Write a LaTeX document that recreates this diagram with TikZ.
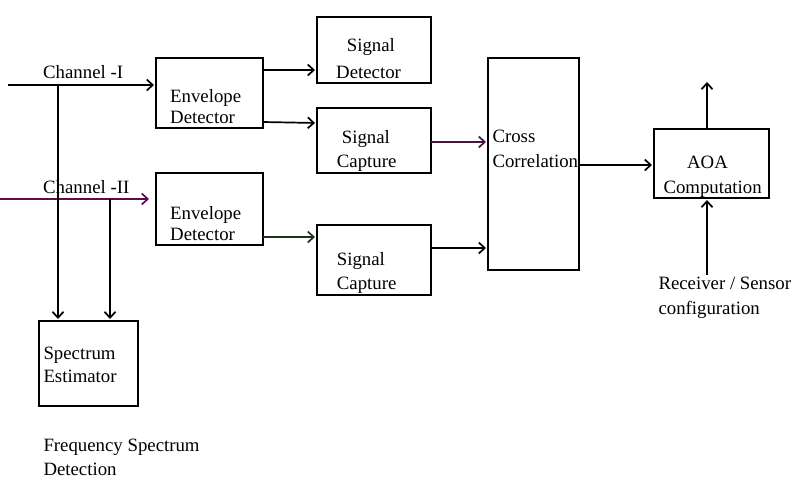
\documentclass[tikz,border=0pt]{standalone}
\usepackage{fontspec}
\setmainfont{Liberation Serif}
\usetikzlibrary{arrows.meta}
\definecolor{chpurple}{RGB}{95,10,80}
\definecolor{dpurple}{RGB}{70,20,60}
\definecolor{dgreen}{RGB}{30,50,30}
\begin{document}
\begin{tikzpicture}[x=1pt,y=-1pt,
  box/.style={draw, line width=2pt, inner sep=0pt, outer sep=0pt},
  arr/.style={line width=1.7pt, -{Straight Barb[length=6pt,width=11pt,line width=1.7pt]}, shorten >=2pt},
  txt/.style={anchor=base west, inner sep=0pt, font=\fontsize{18.8}{22}\selectfont}]
\useasboundingbox (0,0) rectangle (803,488);
% boxes
\node[box, minimum width=107pt, minimum height=70pt] (ed1) at (209.5,93) {};
\node[box, minimum width=107pt, minimum height=72pt] (ed2) at (209.5,209) {};
\node[box, minimum width=114pt, minimum height=66pt] (sd) at (374,50) {};
\node[box, minimum width=114pt, minimum height=65pt] (sc1) at (374,140.5) {};
\node[box, minimum width=114pt, minimum height=70pt] (sc2) at (374,260) {};
\node[box, minimum width=91pt, minimum height=212pt] (cc) at (533.5,164) {};
\node[box, minimum width=115pt, minimum height=69pt] (aoa) at (711.5,163.5) {};
\node[box, minimum width=99pt, minimum height=85pt] (se) at (88.5,363.5) {};
% texts
\node[txt] (tch1) at (43,78) {Channel -I};
\node[txt] (tch2) at (43,193) {Channel -II};
\node[txt] (ted1a) at (170,102.5) {Envelope};
\node[txt] (ted1b) at (170,123.5) {Detector};
\node[txt] (ted2a) at (170,219) {Envelope};
\node[txt] (ted2b) at (170,240) {Detector};
\node[txt] (tsda) at (346.7,51.5) {Signal};
\node[txt] (tsdb) at (336,78.5) {Detector};
\node[txt] (tsc1a) at (341.7,143) {Signal};
\node[txt] (tsc1b) at (336.7,167.5) {Capture};
\node[txt] (tsc2a) at (336.7,265.5) {Signal};
\node[txt] (tsc2b) at (336.7,289) {Capture};
\node[txt] (tcca) at (492.3,142.5) {Cross};
\node[txt] (tccb) at (492.3,167.5) {Correlation};
\node[txt, anchor=base] (taoaa) at (707.5,168) {AOA};
\node[txt] (taoab) at (663.3,193.5) {Computation};
\node[txt] (trxa) at (658.3,289) {Receiver / Sensor};
\node[txt] (trxb) at (658.3,314) {configuration};
\node[txt] (tsea) at (43.3,359) {Spectrum};
\node[txt] (tseb) at (43.3,382.5) {Estimator};
\node[txt] (tfsa) at (43.3,451.5) {Frequency Spectrum};
\node[txt] (tfsb) at (43.3,475.5) {Detection};
% free coordinates
\coordinate (in1) at (8,85);
\coordinate (in2) at (0,199);
\coordinate (j1) at (58,85);
\coordinate (j2) at (110,199);
\coordinate (out) at (707,80);
\coordinate (rx) at (707,275);
% connectors
\draw[arr] (in1) -- ([yshift=8pt]ed1.west);
\draw[arr, chpurple, shorten >=7pt] (in2) -- ([yshift=10pt]ed2.west);
\draw[arr] (j1) -- ([xshift=-30.5pt]se.north);
\draw[arr] (j2) -- ([xshift=21.5pt]se.north);
\draw[arr] ([yshift=23pt]ed1.east) -- ([yshift=-20pt]sd.west);
\draw[arr] ([yshift=-29pt]ed1.east) -- ([yshift=17.5pt]sc1.west);
\draw[arr, dgreen] ([yshift=-28pt]ed2.east) -- ([yshift=23pt]sc2.west);
\draw[arr, dpurple] ([yshift=-1.5pt]sc1.east) -- ([yshift=22pt]cc.west);
\draw[arr] ([yshift=12pt]sc2.east) -- ([yshift=-84pt]cc.west);
\draw[arr] ([yshift=-1pt]cc.east) -- ([yshift=-1.5pt]aoa.west);
\draw[arr] ([xshift=-4.5pt]aoa.north) -- (out);
\draw[arr] (rx) -- ([xshift=-4.5pt]aoa.south);
\end{tikzpicture}
\end{document}
